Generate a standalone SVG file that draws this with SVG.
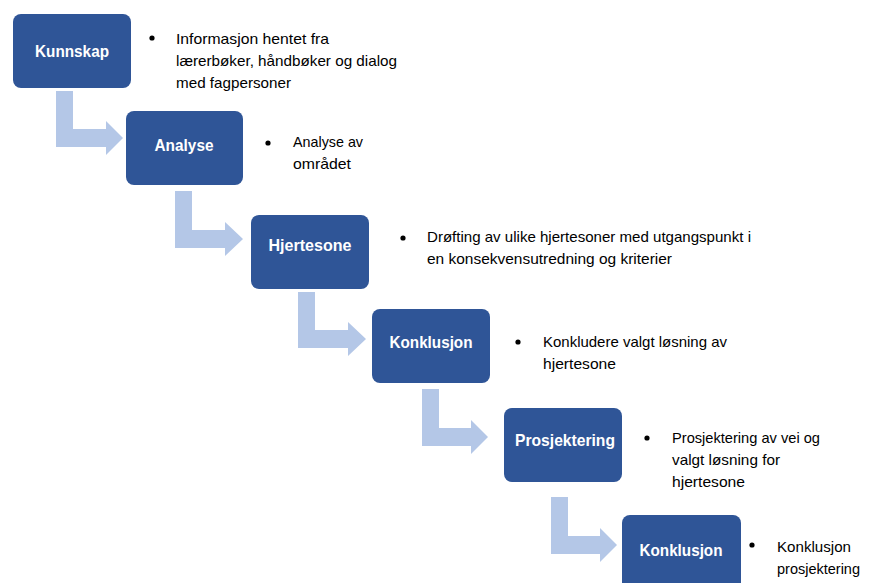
<svg xmlns="http://www.w3.org/2000/svg" width="872" height="583" viewBox="0 0 872 583">
<style>
.box{fill:#2F5597;}
.lbl{font-family:"Liberation Sans",Arial,sans-serif;font-weight:bold;font-size:16.5px;fill:#FFFFFF;text-anchor:middle;}
.txt{font-family:"Liberation Sans",Arial,sans-serif;font-size:14.5px;fill:#000000;}
.arr{fill:#B4C7E7;}
.dot{fill:#000000;}
</style>
<rect width="872" height="583" fill="#FFFFFF"/>
<g id="connectors">
<path class="arr" d="M56,91 H73 V129 H106 V121 L123,138 L106,155 V147 H56 Z"/>
<path class="arr" d="M175,191 H192 V230 H225 V222 L243,239 L225,256 V248 H175 Z"/>
<path class="arr" d="M298,292 H315 V330 H348 V322 L366,339 L348,356 V348 H298 Z"/>
<path class="arr" d="M422,389 H439 V428 H471 V420 L488,437 L471,454 V446 H422 Z"/>
<path class="arr" d="M551,497 H568 V536 H600 V528 L617,545 L600,562 V554 H551 Z"/>
</g>
<g id="kunnskap">
<rect class="box" x="13" y="14" width="118" height="74" rx="8"/>
<text class="lbl" x="72" y="57" textLength="74" lengthAdjust="spacingAndGlyphs">Kunnskap</text>
<circle class="dot" cx="152" cy="38" r="2.6"/>
<text class="txt" x="176" y="44" textLength="153" lengthAdjust="spacingAndGlyphs">Informasjon hentet fra</text>
<text class="txt" x="176" y="66" textLength="221" lengthAdjust="spacingAndGlyphs">lærerbøker, håndbøker og dialog</text>
<text class="txt" x="176" y="88" textLength="115" lengthAdjust="spacingAndGlyphs">med fagpersoner</text>
</g>
<g id="analyse">
<rect class="box" x="126" y="111" width="117" height="74" rx="8"/>
<text class="lbl" x="184" y="151" textLength="59" lengthAdjust="spacingAndGlyphs">Analyse</text>
<circle class="dot" cx="268" cy="143" r="2.6"/>
<text class="txt" x="293" y="147" textLength="70" lengthAdjust="spacingAndGlyphs">Analyse av</text>
<text class="txt" x="293" y="169" textLength="58" lengthAdjust="spacingAndGlyphs">området</text>
</g>
<g id="hjertesone">
<rect class="box" x="251" y="215" width="118" height="74" rx="8"/>
<text class="lbl" x="310" y="251" textLength="83" lengthAdjust="spacingAndGlyphs">Hjertesone</text>
<circle class="dot" cx="403" cy="238" r="2.6"/>
<text class="txt" x="427" y="242" textLength="324" lengthAdjust="spacingAndGlyphs">Drøfting av ulike hjertesoner med utgangspunkt i</text>
<text class="txt" x="427" y="264" textLength="245" lengthAdjust="spacingAndGlyphs">en konsekvensutredning og kriterier</text>
</g>
<g id="konklusjon1">
<rect class="box" x="372" y="309" width="118" height="74" rx="8"/>
<text class="lbl" x="431" y="348" textLength="83" lengthAdjust="spacingAndGlyphs">Konklusjon</text>
<circle class="dot" cx="518" cy="342" r="2.6"/>
<text class="txt" x="543" y="347" textLength="184" lengthAdjust="spacingAndGlyphs">Konkludere valgt løsning av</text>
<text class="txt" x="543" y="369" textLength="73" lengthAdjust="spacingAndGlyphs">hjertesone</text>
</g>
<g id="prosjektering">
<rect class="box" x="504" y="408" width="118" height="74" rx="8"/>
<text class="lbl" x="565" y="446" textLength="100" lengthAdjust="spacingAndGlyphs">Prosjektering</text>
<circle class="dot" cx="647" cy="438" r="2.6"/>
<text class="txt" x="672" y="443" textLength="148" lengthAdjust="spacingAndGlyphs">Prosjektering av vei og</text>
<text class="txt" x="672" y="465" textLength="108" lengthAdjust="spacingAndGlyphs">valgt løsning for</text>
<text class="txt" x="672" y="487" textLength="73" lengthAdjust="spacingAndGlyphs">hjertesone</text>
</g>
<g id="konklusjon2">
<rect class="box" x="622" y="515" width="119" height="76" rx="8"/>
<text class="lbl" x="681" y="556" textLength="83" lengthAdjust="spacingAndGlyphs">Konklusjon</text>
<circle class="dot" cx="752" cy="545" r="2.6"/>
<text class="txt" x="777" y="552" textLength="74" lengthAdjust="spacingAndGlyphs">Konklusjon</text>
<text class="txt" x="777" y="574" textLength="83" lengthAdjust="spacingAndGlyphs">prosjektering</text>
</g>
</svg>
